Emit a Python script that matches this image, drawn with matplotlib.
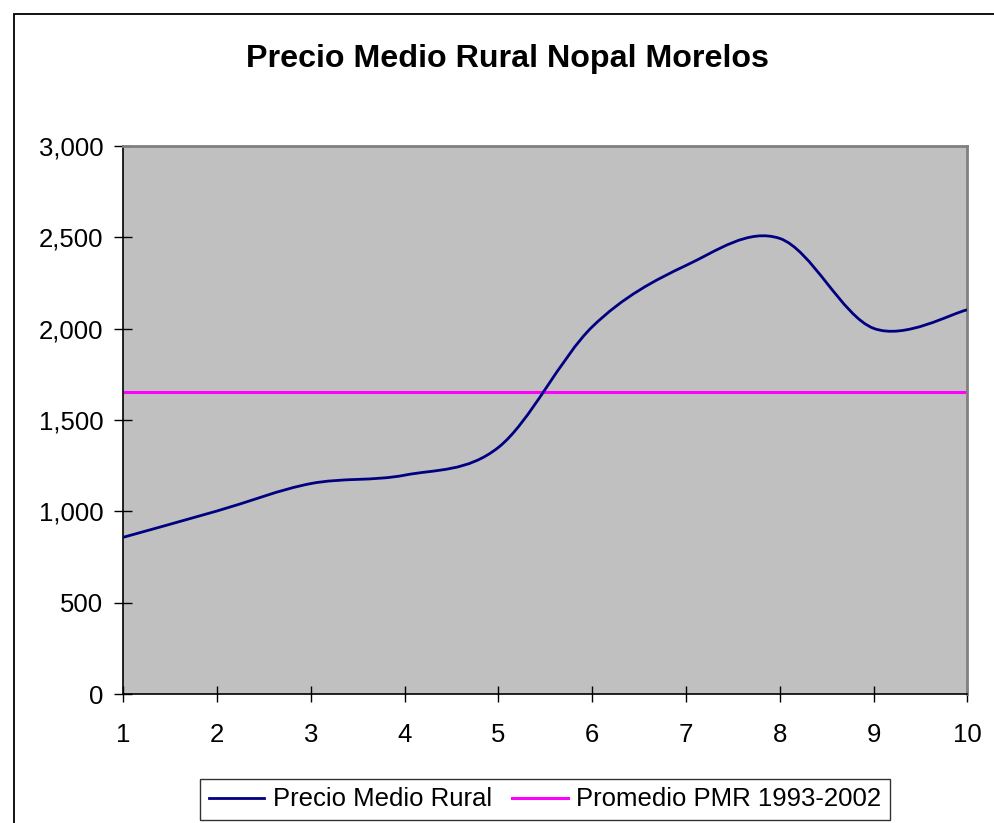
import matplotlib
matplotlib.use("Agg")
import matplotlib.pyplot as plt
from matplotlib.path import Path
from matplotlib.patches import PathPatch, Rectangle
from matplotlib.lines import Line2D
from matplotlib.ticker import FuncFormatter

plt.rcParams['font.family'] = ['Liberation Sans', 'DejaVu Sans']

# ---- data ----
periods = [1, 2, 3, 4, 5, 6, 7, 8, 9, 10]
precio_medio_rural = [858, 1002, 1152, 1198, 1350, 2010, 2346, 2494, 2002, 2103]
promedio_pmr = 1651.5
title = "Precio Medio Rural Nopal Morelos"
series_labels = ["Precio Medio Rural", "Promedio PMR 1993-2002"]
y_ticks = [0, 500, 1000, 1500, 2000, 2500, 3000]

W, H = 994, 823
fig = plt.figure(figsize=(W / 100, H / 100), dpi=100)
fig.patch.set_facecolor('white')

# outer chart border (clipped at right/bottom as in reference)
fig.patches.append(Rectangle((14 / W, -0.1), 1.2, (1 - 14 / H) + 0.1,
                             transform=fig.transFigure, fill=False,
                             edgecolor='black', linewidth=1.3))

left, right, top, bottom = 123.3, 967.3, 146, 694
ax = fig.add_axes([left / W, 1 - bottom / H, (right - left) / W, (bottom - top) / H])
ax.set_facecolor('#C0C0C0')
ax.set_xlim(periods[0], periods[-1])
ax.set_ylim(0, 3000)

# smoothed line (Excel-style Catmull-Rom Bezier) built from the data points
n = len(periods)
pts = list(zip(periods, precio_medio_rural))
verts = [pts[0]]
codes = [Path.MOVETO]
for i in range(n - 1):
    p0 = pts[max(i - 1, 0)]
    p1 = pts[i]
    p2 = pts[i + 1]
    p3 = pts[min(i + 2, n - 1)]
    c1 = (p1[0] + (p2[0] - p0[0]) / 6, p1[1] + (p2[1] - p0[1]) / 6)
    c2 = (p2[0] - (p3[0] - p1[0]) / 6, p2[1] - (p3[1] - p1[1]) / 6)
    verts += [c1, c2, p2]
    codes += [Path.CURVE4] * 3
ax.add_patch(PathPatch(Path(verts, codes), facecolor='none', edgecolor='#000080',
                       linewidth=2.0, zorder=3, capstyle='round', joinstyle='round'))

ax.axhline(promedio_pmr, color='#FF00FF', linewidth=2.2, zorder=2)

# spines
for s in ['left', 'bottom']:
    ax.spines[s].set_color('black')
    ax.spines[s].set_linewidth(1.2)
for s in ['top', 'right']:
    ax.spines[s].set_color('#808080')
    ax.spines[s].set_linewidth(2)

ax.set_xticks(periods)
ax.set_yticks(y_ticks)
ax.yaxis.set_major_formatter(FuncFormatter(lambda v, p: f"{int(v):,}"))
ax.tick_params(axis='y', direction='inout', length=13, width=1, pad=8,
               labelsize=18.5, colors='black')
ax.tick_params(axis='x', direction='inout', length=12, width=1, pad=15,
               labelsize=18.5, colors='black')

fig.text(508 / W, 1 - 59 / H, title, ha='center', va='center',
         fontsize=23.2, fontweight='bold')

handles = [Line2D([], [], color='#000080', linewidth=2.0),
           Line2D([], [], color='#FF00FF', linewidth=2.2)]
leg = fig.legend(handles, series_labels, loc='center', ncol=2,
                 bbox_to_anchor=(545 / W, 1 - 799.5 / H), fontsize=18.5,
                 frameon=True, fancybox=False, edgecolor='black',
                 handlelength=2.15, handletextpad=0.33, columnspacing=0.8,
                 borderpad=0.33, borderaxespad=0)
leg.get_frame().set_linewidth(1.0)

fig.savefig('out.png', dpi=100)
